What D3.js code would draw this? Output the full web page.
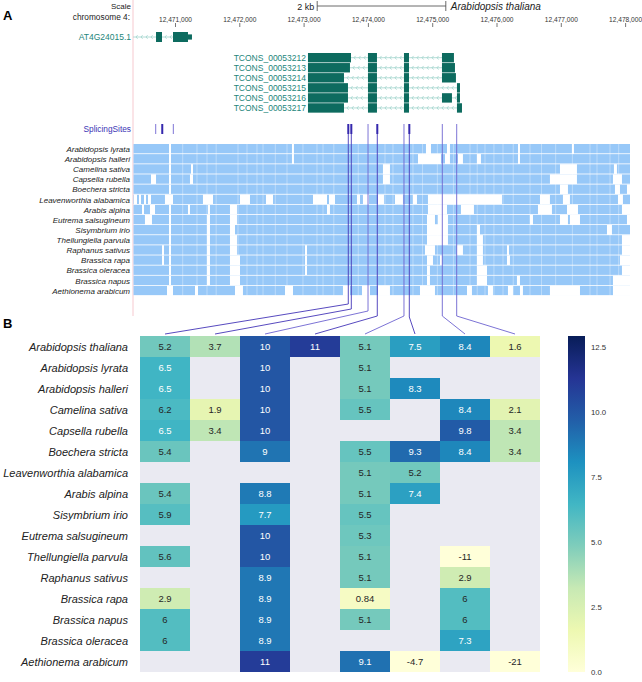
<!DOCTYPE html>
<html>
<head>
<meta charset="utf-8">
<script src="https://cdn.jsdelivr.net/npm/d3@7"></script>
<style>
  body { margin: 0; background: #fff; }
  svg { display: block; font-family: "Liberation Sans", Arial, Helvetica, sans-serif; }
</style>
</head>
<body>
<svg id="fig" width="642" height="682"></svg>
<script>
// ---- data (positions are bp offsets from chromStart) ----
const chromStart = 12470000;
const viewRange = [347, 8076];
const axisTicks = [1000, 2000, 3000, 4000, 5000, 6000, 7000, 8000];
const scaleBarBp = 2000;

const refGeneName = "AT4G24015.1";
const refGeneSpan = [347, 1264];
const refGeneExons = [[705, 798], [969, 1202]];
const refGeneUtr = [[1202, 1264]];

const transcriptNames = ["TCONS_00053212", "TCONS_00053213", "TCONS_00053214",
  "TCONS_00053215", "TCONS_00053216", "TCONS_00053217"];
const transcriptExons = [
  [[3068, 3737], [4001, 4141], [4561, 4639], [5152, 5338]],
  [[3068, 3721], [4001, 4141], [4561, 4639], [5152, 5354]],
  [[3068, 3628], [4001, 4141], [4561, 4639], [5152, 5369]],
  [[3068, 3690], [4001, 4141], [4561, 4639], [5385, 5432]],
  [[3068, 3690], [4001, 4141], [4561, 4639], [5152, 5307], [5385, 5432]],
  [[3068, 3628], [4001, 4141], [4561, 4639], [5385, 5463]]
];

const spliceSites = [700, 802, 974, 3695, 3742, 4002, 4146, 4561, 4644, 5157, 5381];
const spliceStrength = [1, 2, 1, 2, 2, 1, 2, 1, 2, 1, 1];

const alignSpecies = ["Arabidopsis lyrata", "Arabidopsis halleri", "Camelina sativa",
  "Capsella rubella", "Boechera stricta", "Leavenworthia alabamica", "Arabis alpina",
  "Eutrema salsugineum", "Sisymbrium irio", "Thellungiella parvula", "Raphanus sativus",
  "Brassica rapa", "Brassica oleracea", "Brassica napus", "Aethionema arabicum"];
const alignGaps = [
  [[907, 938], [2819, 2850], [4903, 4981], [5230, 5276], [6334, 6365], [7173, 7204]],
  [[907, 938], [2819, 2850], [4779, 5136], [5199, 5276], [5401, 5478], [5696, 5758], [6334, 6365]],
  [[907, 938], [1249, 1280], [4234, 4343], [6987, 7251], [7826, 7873]],
  [[627, 705], [907, 938], [1233, 1280], [4234, 4343], [6831, 7251], [7811, 7951]],
  [[907, 938], [6987, 7111], [7842, 7920], [8029, 8076]],
  [[362, 409], [440, 471], [518, 549], [580, 627], [844, 969], [1435, 1591], [2011, 2166],
   [2415, 2524], [3146, 3364], [3395, 3488], [3830, 3877], [3923, 4017], [4157, 4250],
   [4421, 4545], [4701, 4763], [4934, 6085], [6676, 6831], [7033, 7142], [7889, 7966]],
  [[487, 518], [611, 689], [907, 938], [1202, 1233], [1513, 1544], [1855, 1964], [3364, 3410],
   [4934, 5230], [5447, 5649], [6645, 6862], [7096, 7267], [7951, 8076]],
  [[533, 642], [907, 938], [1498, 1544], [1855, 1964], [4919, 5043], [5090, 5245], [6520, 6567],
   [6987, 7111], [7142, 7298], [8029, 8076]],
  [[907, 938], [1498, 1544], [1855, 1933], [4919, 5245], [5696, 5743], [7718, 7795]],
  [[907, 938], [1498, 1544], [1855, 1964], [4919, 5245], [5696, 5789], [7951, 8076]],
  [[798, 829], [907, 938], [1498, 1544], [1855, 1964], [3022, 3053], [4888, 5043], [5385, 5478],
   [5696, 5789], [6163, 6194], [7951, 8076]],
  [[798, 829], [907, 938], [1498, 1544], [1855, 2011], [3022, 3053], [4919, 5012], [5121, 5152],
   [5696, 5789], [6163, 6209], [7920, 8076]],
  [[907, 938], [1498, 1544], [1855, 2011], [3022, 3053], [4919, 4965], [5696, 5852], [7951, 8076]],
  [[907, 938], [1498, 1544], [1855, 2011], [4919, 4965], [5696, 5852], [6318, 6365], [7811, 8076]],
  [[876, 969], [1311, 1358], [1933, 2057], [2711, 2835], [3612, 3721], [3908, 4032], [4157, 4343],
   [4810, 5043], [5541, 5618], [5867, 5945], [6178, 6256], [6365, 6411], [6831, 7298], [7811, 8076]]
];
const blockEdges = [1120, 1342, 1498, 1640, 1980, 2120, 2275, 2369, 2560, 2742, 2990, 3208,
  3302, 3470, 3850, 4266, 4390, 4701, 4850, 5080, 5330, 5588, 5700, 5821, 5960, 6101, 6260,
  6521, 6700, 6920, 7180, 7454, 7563, 7765, 7900];

const heatSpecies = ["Arabidopsis thaliana", "Arabidopsis lyrata", "Arabidopsis halleri",
  "Camelina sativa", "Capsella rubella", "Boechera stricta", "Leavenworthia alabamica",
  "Arabis alpina", "Sisymbrium irio", "Eutrema salsugineum", "Thellungiella parvula",
  "Raphanus sativus", "Brassica rapa", "Brassica napus", "Brassica oleracea", "Aethionema arabicum"];
const heatValues = [
  [5.2, 3.7, 10, 11, 5.1, 7.5, 8.4, 1.6],
  [6.5, null, 10, null, 5.1, null, null, null],
  [6.5, null, 10, null, 5.1, 8.3, null, null],
  [6.2, 1.9, 10, null, 5.5, null, 8.4, 2.1],
  [6.5, 3.4, 10, null, null, null, 9.8, 3.4],
  [5.4, null, 9, null, 5.5, 9.3, 8.4, 3.4],
  [null, null, null, null, 5.1, 5.2, null, null],
  [5.4, null, 8.8, null, 5.1, 7.4, null, null],
  [5.9, null, 7.7, null, 5.5, null, null, null],
  [null, null, 10, null, 5.3, null, null, null],
  [5.6, null, 10, null, 5.1, null, -11, null],
  [null, null, 8.9, null, 5.1, null, 2.9, null],
  [2.9, null, 8.9, null, 0.84, null, 6, null],
  [6, null, 8.9, null, 5.1, null, 6, null],
  [6, null, 8.9, null, null, null, 7.3, null],
  [null, null, 11, null, 9.1, -4.7, null, -21]
];
const siteColumns = [3, 4, 5, 6, 7, 8, 9, 10]; // splice site feeding each heatmap column
const colorMax = 12.92;
const colorTicks = [0, 2.5, 5, 7.5, 10, 12.5];

// ---- layout ----
const fig = d3.select('#fig');
const x = d3.scaleLinear().domain(viewRange).range([133, 630]);
const teal = '#0d6b5f', tealLabel = '#23857a', intronCol = '#9fd3cc';
const siteDark = '#3528ad', siteLight = '#7f76d6';
const elbowY = [304, 309, 311, 316, 316, 317, 316, 316];

function chevrons(g, x0, x1, y) {
  const pts = d3.range(x0 + 3, x1 - 2, 5);
  g.selectAll(null).data(pts).enter().append('path')
    .attr('d', p => `M${p + 1.6},${y - 1.8}L${p},${y}L${p + 1.6},${y + 1.8}`)
    .attr('fill', 'none').attr('stroke', intronCol).attr('stroke-width', 0.8);
}

// panel letters
fig.append('text').attr('x', 3).attr('y', 19.5).text('A')
  .attr('font-size', 13).attr('font-weight', 'bold');
fig.append('text').attr('x', 3).attr('y', 328).text('B')
  .attr('font-size', 13).attr('font-weight', 'bold');

// pink left border line
fig.append('line').attr('x1', 133).attr('x2', 133).attr('y1', 0).attr('y2', 316)
  .attr('stroke', '#f6c9cf').attr('stroke-width', 1);

// header
fig.append('text').attr('x', 131).attr('y', 9).attr('text-anchor', 'end')
  .attr('font-size', 8).attr('fill', '#222').text('Scale');
fig.append('text').attr('x', 130).attr('y', 20).attr('text-anchor', 'end')
  .attr('font-size', 8.3).attr('fill', '#222').text('chromosome 4:');

const mid = d3.mean(viewRange);
const sb0 = x(mid - scaleBarBp / 2), sb1 = x(mid + scaleBarBp / 2);
const sb = fig.append('g').attr('stroke', '#444').attr('stroke-width', 0.8);
sb.append('line').attr('x1', sb0).attr('x2', sb1).attr('y1', 6).attr('y2', 6);
sb.append('line').attr('x1', sb0).attr('x2', sb0).attr('y1', 1).attr('y2', 11);
sb.append('line').attr('x1', sb1).attr('x2', sb1).attr('y1', 1).attr('y2', 11);
fig.append('text').attr('x', sb0 - 3).attr('y', 9.5).attr('text-anchor', 'end')
  .attr('font-size', 9).attr('fill', '#222').text((scaleBarBp / 1000) + ' kb');
fig.append('text').attr('x', sb1 + 5).attr('y', 10).attr('font-size', 10)
  .attr('font-style', 'italic').attr('fill', '#222').text('Arabidopsis thaliana');

const axis = d3.axisTop(x).tickValues(axisTicks).tickSize(4).tickPadding(1.5)
  .tickFormat(d => d3.format(',')(chromStart + d));
const gAxis = fig.append('g').attr('transform', 'translate(0,27)').call(axis)
  .attr('font-size', 6.6).attr('font-family', null);
gAxis.select('.domain').remove();
gAxis.selectAll('text').attr('fill', '#333');
gAxis.selectAll('line').attr('stroke', '#777');

// reference gene
const gGene = fig.append('g');
const geneY = 37;
gGene.append('line').attr('x1', x(refGeneSpan[0])).attr('x2', x(refGeneSpan[1]))
  .attr('y1', geneY).attr('y2', geneY).attr('stroke', intronCol).attr('stroke-width', 0.8);
chevrons(gGene, x(refGeneSpan[0]), x(refGeneExons[0][0]), geneY);
chevrons(gGene, x(refGeneExons[0][1]), x(refGeneExons[1][0]), geneY);
gGene.selectAll('rect.ex').data(refGeneExons).enter().append('rect')
  .attr('x', d => x(d[0])).attr('width', d => x(d[1]) - x(d[0]))
  .attr('y', geneY - 5).attr('height', 10).attr('fill', teal);
gGene.selectAll('rect.utr').data(refGeneUtr).enter().append('rect')
  .attr('x', d => x(d[0])).attr('width', d => x(d[1]) - x(d[0]))
  .attr('y', geneY - 2.6).attr('height', 5.2).attr('fill', teal);
gGene.append('text').attr('x', 131).attr('y', geneY + 3).attr('text-anchor', 'end')
  .attr('font-size', 8.5).attr('fill', tealLabel).text(refGeneName);

// assembled transcripts
const tY = i => 57.7 + i * 10.05;
transcriptExons.forEach((exons, i) => {
  const g = fig.append('g');
  const y = tY(i);
  g.append('line').attr('x1', x(exons[0][0])).attr('x2', x(exons[exons.length - 1][1]))
    .attr('y1', y).attr('y2', y).attr('stroke', intronCol).attr('stroke-width', 0.8);
  for (let k = 0; k < exons.length - 1; k++) chevrons(g, x(exons[k][1]), x(exons[k + 1][0]), y);
  g.selectAll('rect').data(exons).enter().append('rect')
    .attr('x', d => x(d[0])).attr('width', d => Math.max(1, x(d[1]) - x(d[0])))
    .attr('y', y - 4.7).attr('height', 9.4).attr('fill', teal);
  g.append('text').attr('x', x(exons[0][0]) - 2).attr('y', y + 3).attr('text-anchor', 'end')
    .attr('font-size', 8.5).attr('fill', tealLabel).text(transcriptNames[i]);
});

// splicing sites track label
fig.append('text').attr('x', 131).attr('y', 131.5).attr('text-anchor', 'end')
  .attr('font-size', 8.3).attr('fill', '#3b34b5').text('SplicingSites');

// multiple alignment
const aTop = 144, aStep = 10.13;
const gAlign = fig.append('g');
alignSpecies.forEach((sp, i) => {
  const y0 = aTop + i * aStep;
  gAlign.append('rect').attr('x', x(viewRange[0]) + 0.5).attr('width', x(viewRange[1]) - x(viewRange[0]) - 0.5)
    .attr('y', y0).attr('height', aStep - 0.8).attr('fill', '#97c8f8');
  gAlign.selectAll(null).data(alignGaps[i]).enter().append('rect')
    .attr('x', d => x(d[0])).attr('width', d => x(d[1]) - x(d[0]))
    .attr('y', y0 - 0.1).attr('height', aStep).attr('fill', '#fff');
  gAlign.append('text').attr('x', 130).attr('y', y0 + aStep / 2 + 2.8).attr('text-anchor', 'end')
    .attr('font-size', 8).attr('font-style', 'italic').attr('fill', '#222').text(sp);
});
gAlign.selectAll('line.edge').data(blockEdges).enter().append('line')
  .attr('x1', d => x(d)).attr('x2', d => x(d))
  .attr('y1', aTop).attr('y2', aTop + alignSpecies.length * aStep)
  .attr('stroke', '#fff').attr('stroke-opacity', 0.5).attr('stroke-width', 0.7);

// heatmap scales
const hx = d3.scaleBand().domain(d3.range(8)).range([140, 540]);
const hy = d3.scaleBand().domain(heatSpecies).range([336, 672]);
const color = d3.scaleLinear()
  .domain(d3.range(9).map(i => i * colorMax / 8))
  .range(d3.schemeYlGnBu[9]).clamp(true);

// splice site ticks and connectors
spliceSites.forEach((s, i) => {
  fig.append('rect').attr('x', x(s) - (spliceStrength[i] === 2 ? 1 : 0.5)).attr('y', 124)
    .attr('width', spliceStrength[i] === 2 ? 2 : 1).attr('height', 10)
    .attr('fill', spliceStrength[i] === 2 ? siteDark : siteLight);
});
siteColumns.forEach((si, c) => {
  const sx = x(spliceSites[si]);
  fig.append('path')
    .attr('d', `M${sx},134V${elbowY[c]}L${hx(c) + hx.bandwidth() / 2},334`)
    .attr('fill', 'none')
    .attr('stroke', spliceStrength[si] === 2 ? '#4436b8' : '#6d63d0')
    .attr('stroke-width', 0.9);
});

// heatmap
fig.append('rect').attr('x', 140).attr('y', 336).attr('width', 400).attr('height', 336)
  .attr('fill', '#eaeaf2');
const cells = [];
heatSpecies.forEach((sp, r) => heatValues[r].forEach((v, c) => {
  if (v !== null) cells.push({ sp, c, v });
}));
const gCells = fig.append('g').selectAll('g').data(cells).enter().append('g');
gCells.append('rect')
  .attr('x', d => hx(d.c)).attr('y', d => hy(d.sp))
  .attr('width', hx.bandwidth()).attr('height', hy.bandwidth())
  .attr('fill', d => color(d.v));
gCells.append('text')
  .attr('x', d => hx(d.c) + hx.bandwidth() / 2).attr('y', d => hy(d.sp) + hy.bandwidth() / 2 + 3.4)
  .attr('text-anchor', 'middle').attr('font-size', 9.5)
  .attr('fill', d => d.v > 6.3 ? '#fff' : '#262626')
  .text(d => String(d.v));

fig.append('g').selectAll('text').data(heatSpecies).enter().append('text')
  .attr('x', 128).attr('y', d => hy(d) + hy.bandwidth() / 2 + 4)
  .attr('text-anchor', 'end').attr('font-size', 11).attr('font-style', 'italic')
  .attr('fill', '#222').text(d => d);

// colorbar
const cy = d3.scaleLinear().domain([0, colorMax]).range([672, 336]);
const grad = fig.append('defs').append('linearGradient').attr('id', 'cbar')
  .attr('x1', 0).attr('x2', 0).attr('y1', 1).attr('y2', 0);
grad.selectAll('stop').data(color.domain()).enter().append('stop')
  .attr('offset', d => d / colorMax).attr('stop-color', d => color(d));
fig.append('rect').attr('x', 568).attr('y', 336).attr('width', 17).attr('height', 336)
  .attr('fill', 'url(#cbar)');
const gBar = fig.append('g').attr('transform', 'translate(585,0)')
  .call(d3.axisRight(cy).tickValues(colorTicks).tickSize(0).tickPadding(6).tickFormat(d3.format('.1f')))
  .attr('font-size', 7.8).attr('font-family', null);
gBar.select('.domain').remove();
gBar.selectAll('text').attr('fill', '#333');
</script>
</body>
</html>
